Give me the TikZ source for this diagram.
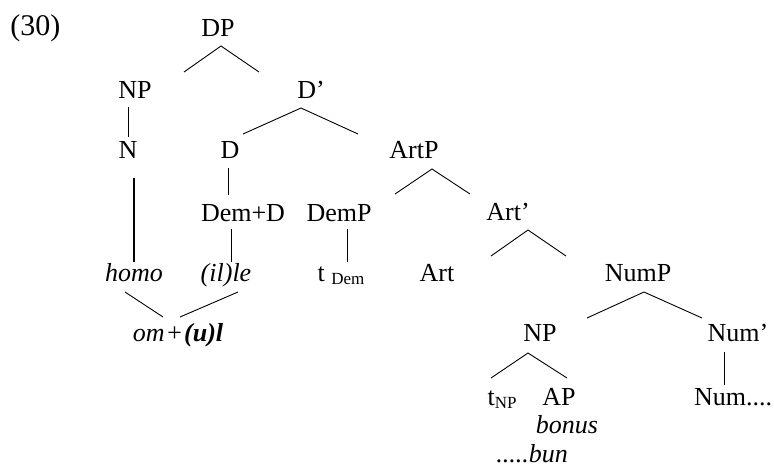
\documentclass[tikz,border=0pt]{standalone}
\usepackage{fontspec}
\setmainfont{Liberation Serif}
\usepackage{tikz}
\usetikzlibrary{positioning}
\tikzset{
   tree/.style={x=1pt,
   y=1pt,
   on grid,
   line width=0.9pt},
 cat/.style={inner sep=0pt,text height=18pt,text depth=6pt,font=\fontsize{26}{30}\selectfont},
 word/.style={cat,font=\fontsize{26}{30}\selectfont\itshape},
 stem/.style={line width=1.5pt}
 }
\newcommand{\lowsub}[1]{\raisebox{-3pt}{\fontsize{17}{20}\selectfont #1}}

\begin{document}
\begin{tikzpicture}[tree]
      \useasboundingbox (0,0) rectangle (774,-467);
      \node[cat,anchor=base west,font=\fontsize{30}{34}\selectfont] (ex) at (10,-35) {(30)};
      \node[cat] (dp) at (218,-30.5) {DP};
      \node[cat] (np) [below left=61.5pt and 83pt of dp] {NP};
      \node[cat] (dbar) [below right=61.5pt and 93pt of dp] {D'};
      \node[cat] (n) [below left=60pt and 7pt of np] {N};
      \node[cat] (d) [below left=60pt and 81pt of dbar] {D};
      \node[cat] (artp) [below right=60pt and 103pt of dbar] {ArtP};
      \node[cat] (demd) [below right=63pt and 13pt of d] {Dem+D};
      \node[cat] (demp) [right=96pt of demd] {DemP};
      \node[cat] (artbar) [below right=62pt and 94pt of artp] {Art'};
      \node[word] (homo) [below right=123pt and 6pt of n] {homo};
      \node[word] (ille) [below left=60pt and 17pt of demd] {(il)le};
      \node[cat] (tdem) [below right=60pt and 2pt of demp] {t\ \lowsub{Dem}};
      \node[cat] (art) [below left=61pt and 71pt of artbar] {Art};
      \node[cat] (nump) [below right=61pt and 130pt of artbar] {NumP};
      \node[word] (om) [below right=60pt and 44pt of homo] {om\hspace{1pt}+\hspace{1pt}\textbf{(u)l}};
      \node[cat] (np2) [below left=60pt and 98pt of nump] {NP};
      \node[cat] (numbar) [below right=60pt and 100pt of nump] {Num'};
      \node[cat] (tnp) [below left=64pt and 38pt of np2] {t\lowsub{NP}};
      \node[cat] (ap) [below right=64pt and 19pt of np2] {AP};
      \node[cat] (num) [below left=64pt and 5pt of numbar] {Num....};
      \node[word] (bonus) [below right=28pt and 8pt of ap] {bonus};
      \node[word] (bun) [below left=29pt and 35pt of bonus] {.....bun};
      % roofs under the branching nodes
      \draw ([shift={(3,-15.5)}]dp.center) +(-37,-26) -- +(0,0) -- +(38,-26);
      \draw ([shift={(-10,-16)}]dbar.center) +(-58,-26) -- +(0,0) -- +(57,-26);
      \draw ([shift={(18,-17)}]artp.center) +(-37,-25) -- +(0,0) -- +(38,-25);
      \draw ([shift={(20,-16)}]artbar.center) +(-37,-26) -- +(0,0) -- +(38,-26);
      \draw ([shift={(6,-17)}]nump.center) +(-57,-26) -- +(0,0) -- +(58,-26);
      \draw ([shift={(-12,-18)}]np2.center) +(-37,-25) -- +(0,0) -- +(39,-25);
      % single lines
      \draw ([shift={(-7,-15)}]np.center) -- ([shift={(0,15)}]n.center);
      \draw[stem] ([shift={(6,-26)}]n.center) -- ([shift={(0,13)}]homo.center);
      \draw ([shift={(-2,-16)}]d.center) -- ([shift={(-15,20)}]demd.center);
      \draw ([shift={(-12,-14)}]demd.center) -- ([shift={(5,13)}]ille.center);
      \draw ([shift={(8,-14)}]demp.center) -- ([shift={(6,13)}]tdem.center);
      \draw ([shift={(-14,-17)}]numbar.center) -- ([shift={(-9,14)}]num.center);
      \draw ([shift={(-9,-17)}]homo.center) -- ([shift={(-15,18)}]om.center);
      \draw ([shift={(12,-17)}]ille.center) -- ([shift={(2,18)}]om.center);
\end{tikzpicture}
\end{document}
